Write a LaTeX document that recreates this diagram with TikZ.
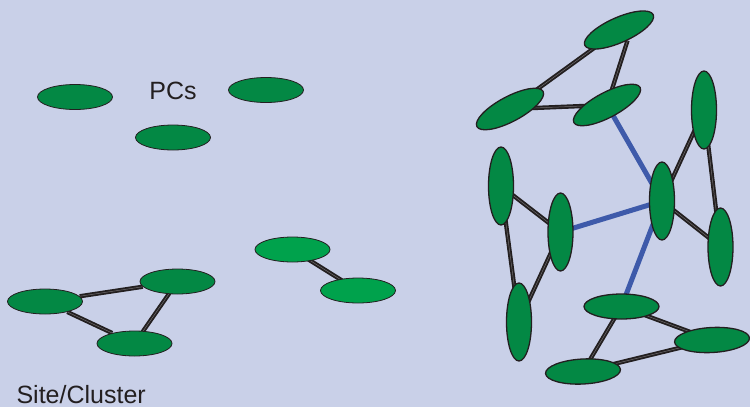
\documentclass[tikz,border=0pt]{standalone}
\usepackage{fontspec}
\setmainfont{Liberation Sans}
\usetikzlibrary{shapes.geometric,backgrounds}
\definecolor{paper}{RGB}{201,208,232}
\definecolor{pcgreen}{RGB}{3,136,68}
\definecolor{lightgreen}{RGB}{0,162,76}
\definecolor{wanblue}{RGB}{62,90,170}
\definecolor{ink}{RGB}{35,31,32}
\begin{document}
\begin{tikzpicture}[x=1pt,y=-1pt,
  pc/.style={ellipse,draw=ink,line width=0.8pt,fill=pcgreen,inner sep=0pt,
    minimum width=75pt,minimum height=25pt},
  bigpc/.style={pc,line width=1.3pt},
  upright/.style={bigpc,minimum width=25pt,minimum height=78pt},
  link/.style={draw=ink,line width=1.9pt,double=ink!65!white,double distance=0.5pt},
  wan/.style={draw=wanblue,line width=5pt},
  label/.style={text=ink,font=\fontsize{25}{30}\selectfont}]
\useasboundingbox (0,0) rectangle (750,407);
% single PCs
\node[pc] (pcA) at (75,97) {};
\node[pc] (pcB) at (266,90) {};
\node[pc] (pcC) at (173,137.5) {};
\node[label,anchor=base] at (173,99) {PCs};
% small site
\node[pc] (sA) at (45,301.5) {};
\node[pc] (sB) at (177.5,281.5) {};
\node[pc] (sC) at (134.5,343.5) {};
\node[label,anchor=base west] at (13,403) {Site/Cluster};
% pair
\node[pc,fill=lightgreen] (pA) at (292.5,249.5) {};
\node[pc,fill=lightgreen] (pB) at (358,290.5) {};
% grid of clusters
\node[bigpc,rotate=24] (g1) at (619,30) {};
\node[bigpc,rotate=28] (g2) at (510,109) {};
\node[bigpc,rotate=28] (g3) at (607,105) {};
\node[upright] (g4) at (704,110) {};
\node[upright] (g5) at (662,201) {};
\node[upright] (g6) at (501,186) {};
\node[upright] (g7) at (560.5,232) {};
\node[upright] (g8) at (519,322) {};
\node[upright] (g9) at (720.5,247) {};
\node[bigpc] (g10) at (621.5,306.5) {};
\node[bigpc,rotate=3] (g11) at (712,340) {};
\node[bigpc,rotate=3] (g12) at (583,371.5) {};
\begin{pgfonlayer}{background}
\fill[paper] (0,0) rectangle (750,407);
\draw[link] (sA) -- (sB);
\draw[link] (sA) -- (sC);
\draw[link] (sB.center) -- (sC.center);
\draw[link] (pA.center) -- (pB.center);
\draw[link] (g1.center) -- (g2.center);
\draw[link] (g1.-75) -- (g3.center);
\draw[link] (g2.center) -- (g3.center);
\draw[link] (g4.center) -- (g5.center);
\draw[link] (g4.center) -- (g9.center);
\draw[link] (g5.center) -- (g9.center);
\draw[link] (g6.center) -- (g7.center);
\draw[link] (g6.center) -- (g8.center);
\draw[link] (g7.center) -- (g8.center);
\draw[link] (g10.center) -- (g11.center);
\draw[link] (g10.center) -- (g12.center);
\draw[link] (g11.center) -- (g12.center);
\draw[wan] (g3.center) -- (g5.center);
\draw[wan] (g7.center) -- (g5.center);
\draw[wan] (g10.center) -- (g5.center);
\end{pgfonlayer}
\end{tikzpicture}
\end{document}
